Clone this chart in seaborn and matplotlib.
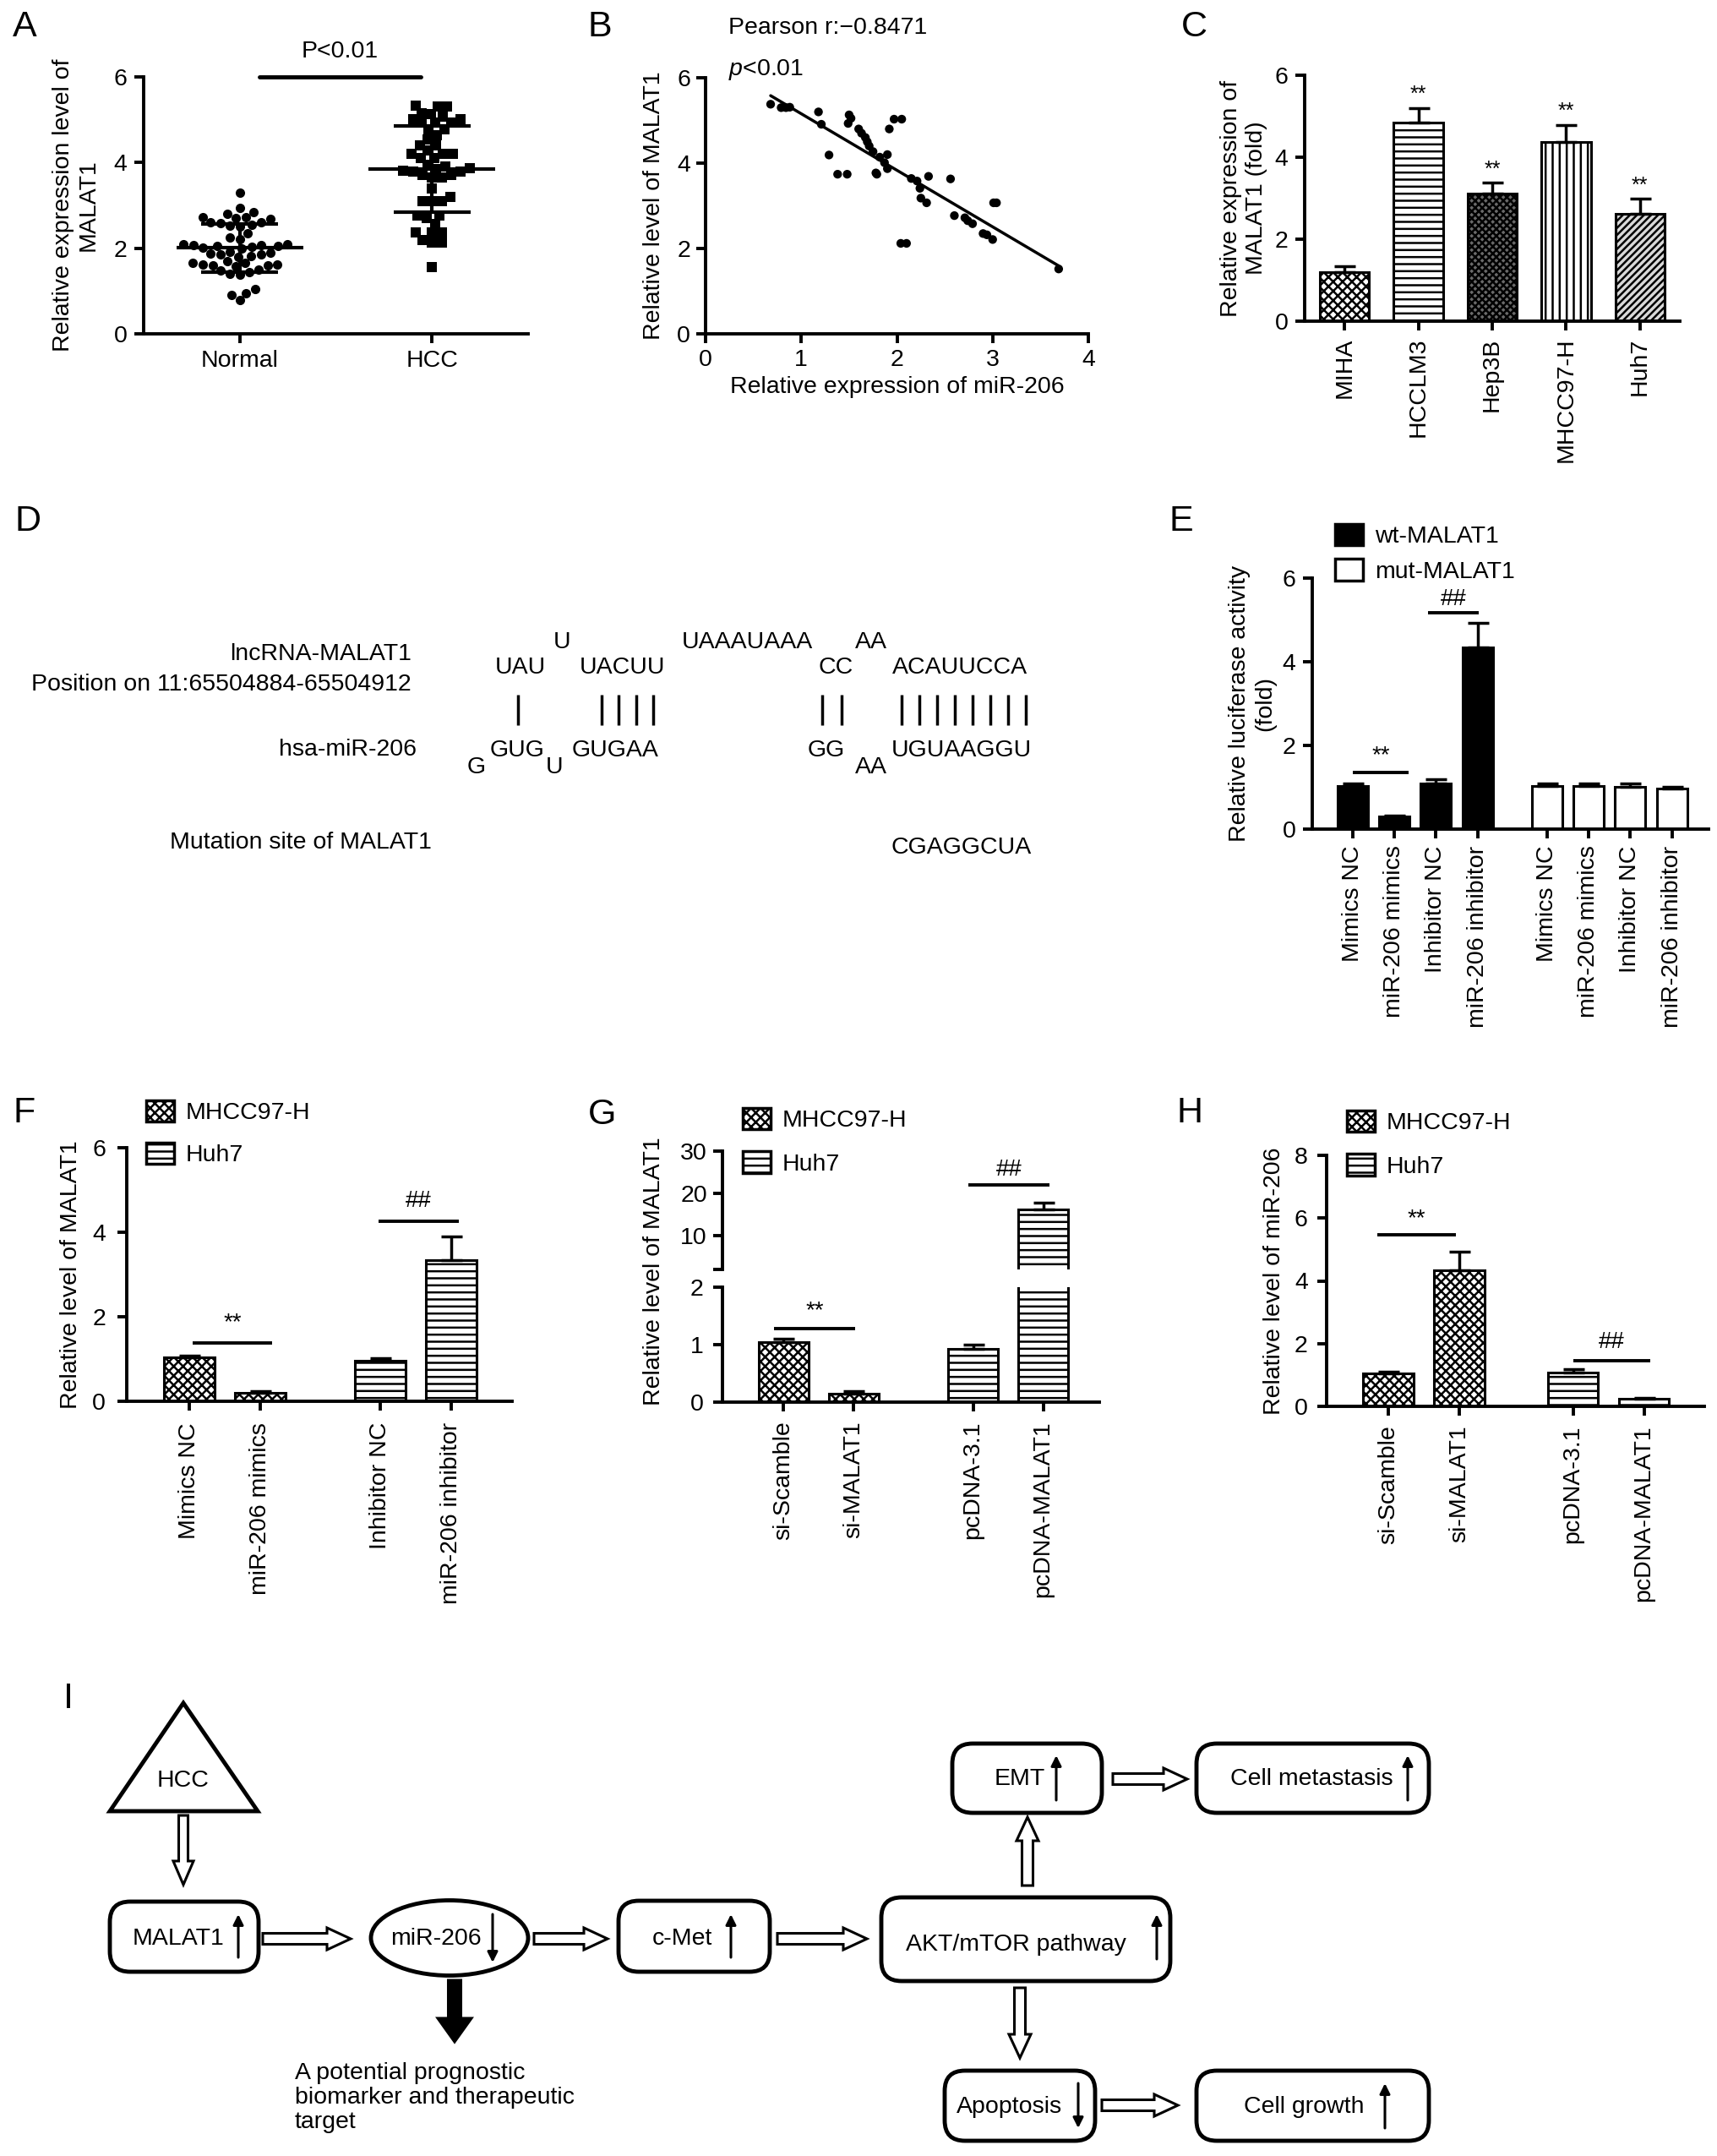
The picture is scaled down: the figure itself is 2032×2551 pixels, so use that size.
import numpy as np
import pandas as pd
import matplotlib
matplotlib.use("Agg")
import matplotlib.pyplot as plt
import seaborn as sns
from matplotlib.patches import Patch, FancyBboxPatch, FancyArrow, Ellipse, Polygon

# ---------------- data ----------------
normal_vals = [3.30, 2.95, 2.85, 2.80, 2.72, 2.72, 2.70, 2.68, 2.60, 2.60,
               2.58, 2.55, 2.52, 2.50, 2.35, 2.25, 2.22, 2.10, 2.08, 2.06,
               2.05, 2.04, 2.02, 2.00, 2.10, 2.07, 1.92, 1.90, 1.88, 1.85,
               1.85, 1.80, 1.82, 1.70, 1.65, 1.62, 1.60, 1.60, 1.58, 1.65,
               1.62, 1.50, 1.48, 1.45, 1.40, 1.38, 1.05, 0.95, 0.90, 0.78]
hcc_vals = [5.33, 5.30, 5.30, 5.16, 5.13, 5.07, 5.02, 5.02, 4.93, 4.93,
            4.93, 4.77, 4.77, 4.64, 4.54, 4.41, 4.41, 4.28, 4.21, 4.21,
            4.21, 4.11, 4.11, 3.95, 3.91, 3.86, 3.85, 3.80, 3.78, 3.78,
            3.72, 3.72, 3.65, 3.65, 3.39, 3.19, 3.09, 3.09, 3.09, 2.76,
            2.76, 2.70, 2.57, 2.36, 2.36, 2.36, 2.20, 2.14, 2.14, 1.55]
ab_groups = ["Normal", "HCC"]

mir206_expr = [0.68, 0.79, 0.84, 0.88, 1.18, 1.21, 1.29, 1.38, 1.48, 1.50,
               1.52, 1.49, 1.60, 1.63, 1.67, 1.69, 1.71, 1.75, 1.78, 1.79,
               1.82, 1.87, 1.90, 1.90, 1.92, 1.97, 2.05, 2.04, 2.10, 2.15,
               2.21, 2.24, 2.25, 2.31, 2.33, 2.56, 2.60, 2.71, 2.74, 2.79,
               2.90, 2.94, 3.00, 3.01, 3.04, 3.69]
malat1_level = [5.38, 5.30, 5.30, 5.31, 5.20, 4.91, 4.19, 3.74, 3.74, 5.13,
                5.05, 4.93, 4.80, 4.70, 4.60, 4.50, 4.40, 4.27, 3.77, 3.74,
                4.14, 4.01, 4.20, 3.87, 4.80, 5.03, 5.03, 2.12, 2.12, 3.64,
                3.58, 3.41, 3.18, 3.07, 3.69, 3.63, 2.77, 2.72, 2.65, 2.58,
                2.35, 2.32, 2.21, 3.07, 3.07, 1.52]
pearson_text = "Pearson r:\u22120.8471"

cell_lines = ["MIHA", "HCCLM3", "Hep3B", "MHCC97-H", "Huh7"]
c_means = [1.19, 4.85, 3.12, 4.38, 2.61]
c_errs = [0.15, 0.35, 0.26, 0.41, 0.37]

e_labels = ["Mimics NC", "miR-206 mimics", "Inhibitor NC", "miR-206 inhibitor"]
wt_means = [1.04, 0.30, 1.10, 4.34]
wt_errs = [0.06, 0.03, 0.10, 0.59]
mut_means = [1.04, 1.04, 1.01, 0.97]
mut_errs = [0.05, 0.05, 0.08, 0.04]

f_labels = ["Mimics NC", "miR-206 mimics", "Inhibitor NC", "miR-206 inhibitor"]
f_means = [1.04, 0.21, 0.97, 3.34]
f_errs = [0.05, 0.03, 0.06, 0.57]

g_labels = ["si-Scamble", "si-MALAT1", "pcDNA-3.1", "pcDNA-MALAT1"]
g_means = [1.05, 0.15, 0.93, 16.3]
g_errs = [0.05, 0.04, 0.07, 1.5]

h_labels = ["si-Scamble", "si-MALAT1", "pcDNA-3.1", "pcDNA-MALAT1"]
h_means = [1.05, 4.34, 1.08, 0.23]
h_errs = [0.06, 0.58, 0.11, 0.04]

# ---------------- style ----------------
sns.set_theme(style="ticks")
plt.rcParams.update({
    "font.family": ["Liberation Sans", "DejaVu Sans"],
    "font.size": 20.5,
    "axes.labelsize": 20.5,
    "xtick.labelsize": 20.5,
    "ytick.labelsize": 20.5,
    "legend.fontsize": 20.5,
    "axes.linewidth": 2.8,
    "axes.edgecolor": "black",
    "axes.labelcolor": "black",
    "text.color": "black",
    "xtick.color": "black",
    "ytick.color": "black",
    "xtick.major.width": 2.8,
    "ytick.major.width": 2.8,
    "xtick.major.size": 7,
    "ytick.major.size": 7,
    "hatch.linewidth": 1.8,
    "mathtext.fontset": "custom",
    "mathtext.rm": "Liberation Sans",
    "mathtext.it": "Liberation Sans:italic",
})

W, H = 2032, 2551
fig = plt.figure(figsize=(W / 100, H / 100), dpi=100)

# overlay in pixel units for the diagram panels and letters
ov = fig.add_axes([0, 0, 1, 1])
ov.set_xlim(0, W)
ov.set_ylim(H, 0)
ov.axis("off")


def add_ax(x0, y0, x1, y1):
    return fig.add_axes([x0 / W, 1 - y1 / H, (x1 - x0) / W, (y1 - y0) / H])


def style(ax, pad=5):
    sns.despine(ax=ax)
    ax.tick_params(axis="both", length=8, width=2.8, pad=pad)


def bars(ax, pos, means, errs, faces, hatches, width=0.72):
    sns.barplot(x=pos, y=means, native_scale=True, width=width, color="white",
                saturation=1, edgecolor="black", linewidth=2.2, errorbar=None, ax=ax)
    for p, fc, h in zip(ax.patches, faces, hatches):
        p.set_facecolor(fc)
        p.set_hatch(h)
    xs = [p.get_x() + p.get_width() / 2 for p in ax.patches]
    ax.errorbar(xs, means, yerr=[np.zeros(len(means)), errs], fmt="none",
                ecolor="black", elinewidth=2.5, capsize=9, capthick=2.5, zorder=3)
    return xs


def sig(ax, x0, x1, y, txt, ty):
    ax.plot([x0, x1], [y, y], color="black", lw=2.8, solid_capstyle="butt", clip_on=False)
    ax.text((x0 + x1) / 2, ty, txt, ha="center", va="center", fontsize=20)


def legend(ax, x, y, labels, faces, hatches, spacing):
    handles = [Patch(facecolor=fc, edgecolor="black", hatch=h, lw=2.5)
               for fc, h in zip(faces, hatches)]
    ax.legend(handles, labels, loc="upper left", bbox_to_anchor=(x / W, 1 - y / H),
              bbox_transform=fig.transFigure, frameon=False, borderpad=0,
              borderaxespad=0, handlelength=1.15, handleheight=1.0,
              handletextpad=0.5, labelspacing=spacing, fontsize=20.5)


for letter, (lx, ly) in {"A": (29, 32), "B": (710, 32), "C": (1413, 32), "D": (33, 617),
                         "E": (1398, 617), "F": (29, 1317), "G": (713, 1319),
                         "H": (1408, 1317), "I": (81, 2010)}.items():
    ov.text(lx, ly, letter, fontsize=31, ha="center", va="center")

# ---------------- A ----------------
axA = add_ax(170, 91, 625, 395)
df_a = pd.DataFrame({"group": ["Normal"] * len(normal_vals) + ["HCC"] * len(hcc_vals),
                     "value": normal_vals + hcc_vals})
for grp, mk in zip(ab_groups, ["o", "s"]):
    sns.swarmplot(data=df_a[df_a.group == grp], x="group", y="value", order=ab_groups,
                  marker=mk, color="black", size=8, linewidth=0, ax=axA)
for i, grp in enumerate(ab_groups):
    vals = df_a.loc[df_a.group == grp, "value"]
    m, sd = vals.mean(), vals.std()
    axA.hlines(m, i - 0.33, i + 0.33, color="black", lw=3, zorder=4)
    axA.hlines([m - sd, m + sd], i - 0.2, i + 0.2, color="black", lw=3, zorder=4)
    axA.vlines(i, m - sd, m + sd, color="black", lw=3, zorder=4)
axA.plot([0.1, 0.94], [6.0, 6.0], color="black", lw=3.5, clip_on=False)
axA.text(0.52, 6.6, "P<0.01", ha="center", va="center")
axA.set_xlim(-0.5, 1.5)
axA.set_ylim(0, 6)
axA.set_yticks([0, 2, 4, 6])
axA.set_xlabel("")
axA.set_ylabel("Relative expression level of\nMALAT1")
axA.yaxis.set_label_coords(-0.115, 0.5)
style(axA, pad=6)

# ---------------- B ----------------
axB = add_ax(835, 92, 1288, 395)
sns.regplot(x=mir206_expr, y=malat1_level, ci=None, color="black", ax=axB,
            scatter_kws={"s": 55, "edgecolors": "none", "alpha": 1},
            line_kws={"lw": 2.5})
axB.set_xlim(0, 4)
axB.set_ylim(0, 6)
axB.set_xticks([0, 1, 2, 3, 4])
axB.set_yticks([0, 2, 4, 6])
axB.set_xlabel("Relative expression of miR-206")
axB.set_ylabel("Relative level of MALAT1")
axB.yaxis.set_label_coords(-0.106, 0.5)
axB.text(0.06, 1.195, pearson_text, transform=axB.transAxes, va="center")
axB.text(0.06, 1.033, r"$\it{p}$<0.01", transform=axB.transAxes, va="center")
style(axB)

# ---------------- C ----------------
axC = add_ax(1544, 89, 1988, 380)
c_faces = ["white", "white", "#6a6a6a", "white", "#d9d9d9"]
c_hatches = ["xxx", "--", "xxxx", "||", "////"]
sns.barplot(x=cell_lines, y=c_means, width=0.67, color="white", saturation=1,
            edgecolor="black", linewidth=2.2, errorbar=None, ax=axC)
for p, fc, h in zip(axC.patches, c_faces, c_hatches):
    p.set_facecolor(fc)
    p.set_hatch(h)
c_xs = [p.get_x() + p.get_width() / 2 for p in axC.patches]
axC.errorbar(c_xs, c_means, yerr=[np.zeros(len(c_means)), c_errs], fmt="none",
             ecolor="black", elinewidth=2.5, capsize=9, capthick=2.5, zorder=3)
for x, m, e in zip(c_xs[1:], c_means[1:], c_errs[1:]):
    axC.text(x, m + e + 0.32, "**", ha="center", va="center", fontsize=18)
axC.set_xlim(-0.54, 4.54)
axC.set_ylim(0, 6)
axC.set_yticks([0, 2, 4, 6])
axC.set_ylabel("Relative expression of\nMALAT1 (fold)")
axC.yaxis.set_label_coords(-0.1, 0.5)
axC.tick_params(axis="x", labelrotation=90)
style(axC, pad=6)

# ---------------- D (sequence alignment) ----------------
for txt, x, y in [("lncRNA-MALAT1", 487, 774), ("Position on 11:65504884-65504912", 487, 810),
                  ("hsa-miR-206", 493, 887), ("Mutation site of MALAT1", 511, 997)]:
    ov.text(x, y, txt, ha="right", va="center")
for txt, x, y in [("U", 665, 760), ("UAAAUAAA", 884, 760), ("AA", 1031, 760),
                  ("UAU", 616, 790), ("UACUU", 737, 790), ("CC", 989, 790),
                  ("ACAUUCCA", 1136, 790),
                  ("GUG", 612, 888), ("GUGAA", 728, 888), ("GG", 978, 888),
                  ("UGUAAGGU", 1138, 888),
                  ("G", 564, 908), ("U", 656, 908), ("AA", 1031, 908),
                  ("CGAGGCUA", 1138, 1003)]:
    ov.text(x, y, txt, ha="center", va="center")
pair_x = [613, 712, 732, 753, 773, 973, 996,
          1067, 1088, 1109, 1130, 1151, 1172, 1193, 1214]
ov.vlines(pair_x, 822, 858, color="black", lw=2.5)

# ---------------- E ----------------
axE = add_ax(1553, 684, 2022, 981)
e_pos = list(np.arange(4)) + list(np.arange(4) + 4.66)
e_xs = bars(axE, e_pos, wt_means + mut_means, wt_errs + mut_errs,
            ["black"] * 4 + ["white"] * 4, [""] * 8, width=0.73)
sig(axE, 0.0, 1.35, 1.35, "**", 1.75)
sig(axE, 1.81, 3.02, 5.17, "##", 5.5)
axE.set_xticks(e_pos)
axE.set_xticklabels(e_labels * 2, rotation=90)
axE.set_xlim(-0.97, 8.54)
axE.set_ylim(0, 6)
axE.set_yticks([0, 2, 4, 6])
axE.set_ylabel("Relative luciferase activity\n(fold)")
axE.yaxis.set_label_coords(-0.092, 0.5)
style(axE, pad=6)
legend(axE, 1580, 620, ["wt-MALAT1", "mut-MALAT1"], ["black", "white"], ["", ""], 0.45)

# ---------------- F ----------------
axF = add_ax(150, 1358, 606, 1658)
f_pos = [0, 1, 2.69, 3.69]
bars(axF, f_pos, f_means, f_errs, ["white"] * 4, ["xxx", "xxx", "--", "--"], width=0.71)
sig(axF, 0.05, 1.17, 1.39, "**", 1.85)
sig(axF, 2.67, 3.8, 4.27, "##", 4.75)
axF.set_xticks(f_pos)
axF.set_xticklabels(f_labels, rotation=90)
axF.set_xlim(-0.88, 4.55)
axF.set_ylim(0, 6)
axF.set_yticks([0, 2, 4, 6])
axF.set_ylabel("Relative level of MALAT1")
axF.yaxis.set_label_coords(-0.116, 0.5)
style(axF, pad=10)
legend(axF, 173, 1302, ["MHCC97-H", "Huh7"], ["white", "white"], ["xxx", "--"], 0.75)

# ---------------- G (broken axis) ----------------
axG = add_ax(855, 1523, 1301, 1659)
axGu = add_ax(855, 1362, 1301, 1502)
g_pos = [0, 1, 2.7, 3.7]
for ax in (axG, axGu):
    bars(ax, g_pos, g_means, g_errs, ["white"] * 4, ["xxx", "xxx", "--", "--"], width=0.71)
    ax.set_xlim(-0.87, 4.5)
axG.set_ylim(0, 2)
axG.set_yticks([0, 1, 2])
axG.set_xticks(g_pos)
axG.set_xticklabels(g_labels, rotation=90)
axGu.set_ylim(2, 30)
axGu.set_yticks([2, 10, 20, 30])
axGu.set_yticklabels(["", "10", "20", "30"])
axGu.set_xticks([])
style(axG, pad=8)
style(axGu, pad=5)
axGu.spines["bottom"].set_visible(False)
sig(axG, -0.14, 1.02, 1.28, "**", 1.58)
sig(axGu, 2.63, 3.79, 22, "##", 25.6)
fig.text(787 / W, 1 - 1504 / H, "Relative level of MALAT1", rotation=90,
         ha="right", va="center", fontsize=20.5)
legend(axGu, 879, 1311, ["MHCC97-H", "Huh7"], ["white", "white"], ["xxx", "--"], 0.8)

# ---------------- H ----------------
axH = add_ax(1570, 1367, 2017, 1664)
h_pos = [0, 1, 2.6, 3.6]
bars(axH, h_pos, h_means, h_errs, ["white"] * 4, ["xxx", "xxx", "--", "--"], width=0.71)
sig(axH, -0.15, 0.95, 5.48, "**", 5.97)
sig(axH, 2.6, 3.69, 1.45, "##", 2.05)
axH.set_xticks(h_pos)
axH.set_xticklabels(h_labels, rotation=90)
axH.set_xlim(-0.87, 4.45)
axH.set_ylim(0, 8)
axH.set_yticks([0, 2, 4, 6, 8])
axH.set_ylabel("Relative level of miR-206")
axH.yaxis.set_label_coords(-0.11, 0.5)
style(axH, pad=8)
legend(axH, 1594, 1314, ["MHCC97-H", "Huh7"], ["white", "white"], ["xxx", "--"], 0.8)

# ---------------- I (pathway diagram) ----------------
LW = 3.5


def rbox(x0, y0, x1, y1, r=24):
    ov.add_patch(FancyBboxPatch((x0, y0), x1 - x0, y1 - y0,
                                boxstyle=f"round,pad=0,rounding_size={r}",
                                fc="white", ec="black", lw=LW))


def hollow(x0, y0, x1, y1, w=12, hw=26, hl=28, fc="white"):
    ov.add_patch(FancyArrow(x0, y0, x1 - x0, y1 - y0, width=w, head_width=hw,
                            head_length=hl, length_includes_head=True,
                            fc=fc, ec="black", lw=2.2))


def thin(x, y0, y1):
    ov.annotate("", xy=(x, y1), xytext=(x, y0),
                arrowprops=dict(arrowstyle="-|>", color="black", lw=2.2,
                                mutation_scale=18, shrinkA=0, shrinkB=0))


ov.add_patch(Polygon([(217, 2015), (130, 2143), (305, 2143)], closed=True,
                     fc="white", ec="black", lw=LW, joinstyle="miter"))
ov.text(217, 2107, "HCC", ha="center", va="center")

boxes = [((130, 2250, 306, 2333), "MALAT1", 211, 2294),
         ((732, 2249, 911, 2333), "c-Met", 807, 2294),
         ((1043, 2245, 1385, 2344), "AKT/mTOR pathway", 1202, 2301),
         ((1127, 2063, 1304, 2145), "EMT", 1207, 2105),
         ((1416, 2063, 1691, 2145), "Cell metastasis", 1552, 2105),
         ((1118, 2450, 1296, 2533), "Apoptosis", 1194, 2493),
         ((1416, 2450, 1691, 2533), "Cell growth", 1543, 2493)]
for (x0, y0, x1, y1), txt, tx, ty in boxes:
    rbox(x0, y0, x1, y1)
    ov.text(tx, ty, txt, ha="center", va="center")

ov.add_patch(Ellipse((532, 2293), 186, 89, fc="white", ec="black", lw=LW))
ov.text(516, 2294, "miR-206", ha="center", va="center")

for x, y0, y1 in [(282, 2316, 2265), (583, 2265, 2322), (865, 2316, 2265),
                  (1369, 2318, 2265), (1250, 2130, 2077), (1666, 2130, 2077),
                  (1276, 2465, 2518), (1639, 2518, 2465)]:
    thin(x, y0, y1)

hollow(217, 2148, 217, 2230, w=11, hw=24)
hollow(311, 2294, 415, 2294, w=13)
hollow(632, 2294, 719, 2294, w=13)
hollow(920, 2294, 1026, 2294, w=13)
hollow(1216, 2231, 1216, 2150, w=13)
hollow(1317, 2105, 1405, 2105, w=13)
hollow(1207, 2352, 1207, 2435, w=13)
hollow(1304, 2491, 1394, 2491, w=13)
hollow(538, 2343, 538, 2416, w=15, hw=40, hl=28, fc="black")
ov.text(349, 2440, "A potential prognostic\nbiomarker and therapeutic\ntarget",
        ha="left", va="top", linespacing=1.15)

fig.savefig("out.png", dpi=100)
